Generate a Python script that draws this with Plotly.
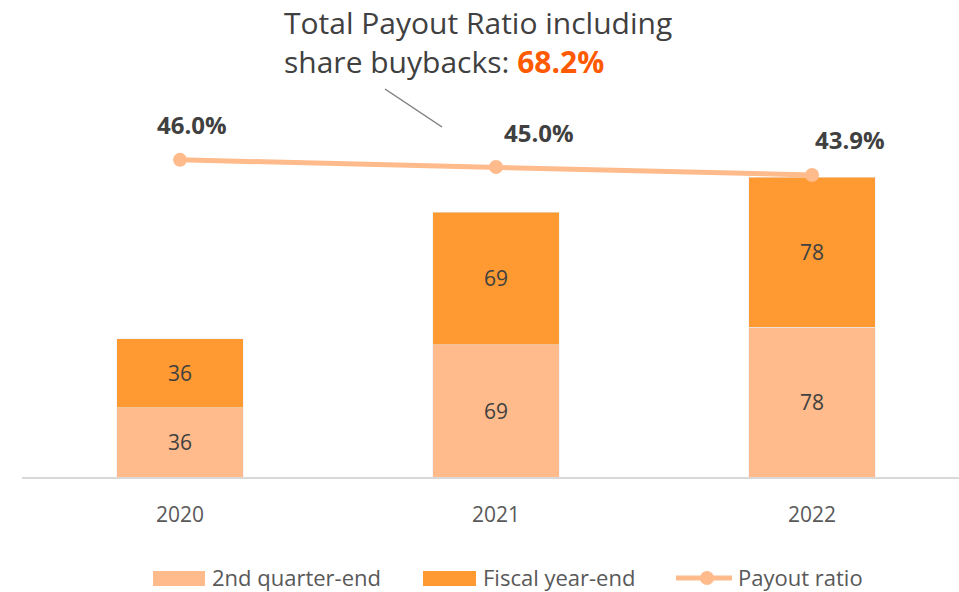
import plotly.graph_objects as go

years = ["2020", "2021", "2022"]
q2_end = [36, 69, 78]
fy_end = [36, 69, 78]
payout_ratio = [46.0, 45.0, 43.9]
payout_labels = ["46.0%", "45.0%", "43.9%"]
label_xshift = [12, 43, 38]
series_names = ["2nd quarter-end", "Fiscal year-end", "Payout ratio"]
total_text = "Total Payout Ratio including<br>share buybacks: <b><span style='color:#FF5A00'>68.2%</span></b>"

FONT = "Open Sans"
TXT = "#404040"
C_LIGHT = "#FFBB8B"
C_DARK = "#FF9A33"

# plot area in pixels: left 22, width 937, top 20, bottom 477
def px(x):
    return (x - 22) / 937

def py(y):
    return (477 - y) / 457

fig = go.Figure()
fig.add_trace(go.Bar(
    x=years, y=q2_end, name=series_names[0], marker_color=C_LIGHT,
    text=[str(v) for v in q2_end], textposition="inside", insidetextanchor="middle",
    textfont=dict(size=21, color=TXT, family=FONT), width=0.4,
))
fig.add_trace(go.Bar(
    x=years, y=fy_end, name=series_names[1], marker_color=C_DARK,
    text=[str(v) for v in fy_end], textposition="inside", insidetextanchor="middle",
    textfont=dict(size=21, color=TXT, family=FONT), width=0.4,
))
fig.add_trace(go.Scatter(
    x=years, y=payout_ratio, name=series_names[2], yaxis="y2", mode="lines+markers",
    line=dict(color=C_LIGHT, width=5), marker=dict(size=14, color=C_LIGHT),
))

for i, (y, t, xs) in enumerate(zip(payout_ratio, payout_labels, label_xshift)):
    fig.add_annotation(x=i, y=y, xref="x", yref="y2", text="<b>" + t + "</b>", showarrow=False,
                       xshift=xs, yshift=35, font=dict(size=24, color=TXT, family=FONT))

fig.add_annotation(xref="paper", yref="paper", x=px(282), y=py(0),
                   xanchor="left", yanchor="top", align="left", text=total_text,
                   showarrow=False, font=dict(size=30, color=TXT, family=FONT))
fig.add_shape(type="line", xref="paper", yref="paper",
              x0=px(385), y0=py(89), x1=px(442), y1=py(127),
              line=dict(color="#7F7F7F", width=1.5))

# custom legend (larger swatches, as in the original)
LEG_Y = 578
fig.add_shape(type="rect", xref="paper", yref="paper", x0=px(153), x1=px(205),
              y0=py(586), y1=py(571), fillcolor=C_LIGHT, line=dict(width=0))
fig.add_shape(type="rect", xref="paper", yref="paper", x0=px(423), x1=px(476),
              y0=py(586), y1=py(571), fillcolor=C_DARK, line=dict(width=0))
fig.add_shape(type="line", xref="paper", yref="paper", x0=px(676), x1=px(732),
              y0=py(LEG_Y), y1=py(LEG_Y), line=dict(color=C_LIGHT, width=5))
fig.add_shape(type="circle", xref="paper", yref="paper", x0=px(700), x1=px(714),
              y0=py(LEG_Y + 7), y1=py(LEG_Y - 7), fillcolor=C_LIGHT, line=dict(width=0))
for xt, name in zip([210, 481, 736], series_names):
    fig.add_annotation(xref="paper", yref="paper", x=px(xt), y=py(LEG_Y - 1), xanchor="left",
                       yanchor="middle", text=name, showarrow=False,
                       font=dict(size=22, color="#595959", family=FONT))

fig.update_layout(
    width=959, height=592, barmode="stack",
    paper_bgcolor="white", plot_bgcolor="white",
    margin=dict(l=22, r=0, t=20, b=115, autoexpand=False),
    font=dict(family=FONT, color=TXT),
    xaxis=dict(type="category", range=[-0.5, 2.465], showline=True, linecolor="#D9D9D9", linewidth=1.5,
               automargin=False, ticks="", ticklabelstandoff=18,
               tickfont=dict(size=21, color="#595959"), showgrid=False),
    yaxis=dict(range=[0, 238], visible=False, showgrid=False),
    yaxis2=dict(range=[2.0, 65.4], overlaying="y", visible=False, showgrid=False),
    showlegend=False,
)

fig.write_html("out.html", config={"displayModeBar": False},
               post_script="document.body.style.margin='0';")
